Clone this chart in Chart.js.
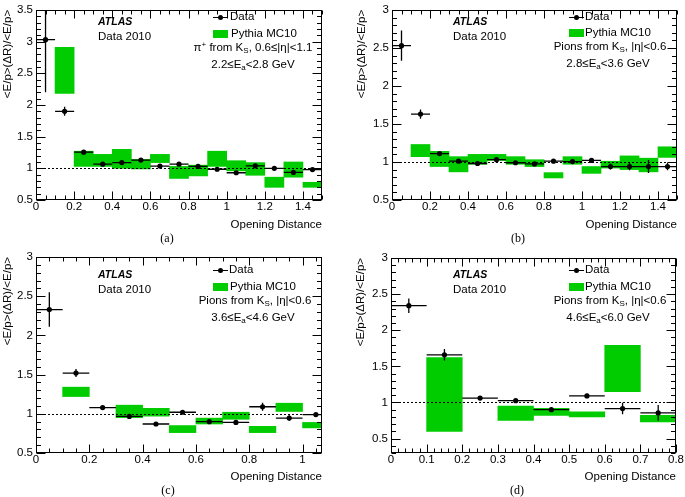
<!DOCTYPE html>
<html><head><meta charset="utf-8">
<script src="https://cdn.jsdelivr.net/npm/chart.js@4/dist/chart.umd.min.js"></script>
<style>
html,body{margin:0;padding:0;background:#fff;}
body{width:685px;height:497px;overflow:hidden;position:relative;font-family:"Liberation Sans",Arial,Helvetica,sans-serif;color:#000;}
canvas{position:absolute;}
.t{position:absolute;white-space:nowrap;font-size:11.5px;line-height:1;transform:translateY(-50%);}
.c{transform:translate(-50%,-50%);}
.atlas{font-weight:bold;font-style:italic;font-size:10.5px;}
.cap{font-family:"Liberation Serif","Times New Roman",serif;font-size:12px;}
sub,sup{font-size:8px;line-height:0;}
sub{vertical-align:-2px;} sup{vertical-align:4px;}
.lline{position:absolute;height:1.2px;background:#000;width:15px;}
.ldot{position:absolute;width:5px;height:5px;border-radius:50%;background:#000;}
.lbox{position:absolute;width:15px;height:8px;background:#00cc00;}
</style>
</head><body>
<canvas id="ca" width="342" height="245" style="left:0;top:0"></canvas>
<canvas id="cb" width="343" height="245" style="left:342px;top:0"></canvas>
<canvas id="cc" width="342" height="252" style="left:0;top:245px"></canvas>
<canvas id="cd" width="343" height="252" style="left:342px;top:245px"></canvas>

<!-- panel a annotations -->
<div class="t atlas" style="left:98px;top:21px">ATLAS</div>
<div class="t" style="left:98px;top:37px">Data 2010</div>
<div class="lline" style="left:213px;top:16.5px"></div><div class="ldot" style="left:218px;top:14.5px"></div>
<div class="t" style="left:230px;top:17px">Data</div>
<div class="lbox" style="left:213px;top:30px"></div>
<div class="t" style="left:231px;top:33.5px">Pythia MC10</div>
<div class="t c" style="left:253px;top:48px">π<sup>+</sup> from K<sub>S</sub>, 0.6≤|η|&lt;1.1</div>
<div class="t c" style="left:253px;top:65px">2.2≤E<sub>a</sub>&lt;2.8 GeV</div>
<div class="t c cap" style="left:167px;top:238px">(a)</div>

<!-- panel b annotations -->
<div class="t atlas" style="left:453px;top:21px">ATLAS</div>
<div class="t" style="left:453px;top:37px">Data 2010</div>
<div class="lline" style="left:569px;top:16.5px"></div><div class="ldot" style="left:574px;top:14.5px"></div>
<div class="t" style="left:585px;top:17px">Data</div>
<div class="lbox" style="left:569px;top:29px"></div>
<div class="t" style="left:585px;top:33px">Pythia MC10</div>
<div class="t c" style="left:610px;top:47px">Pions from K<sub>S</sub>, |η|&lt;0.6</div>
<div class="t c" style="left:608px;top:64px">2.8≤E<sub>a</sub>&lt;3.6 GeV</div>
<div class="t c cap" style="left:518px;top:238px">(b)</div>

<!-- panel c annotations -->
<div class="t atlas" style="left:98px;top:274px">ATLAS</div>
<div class="t" style="left:98px;top:290px">Data 2010</div>
<div class="lline" style="left:213px;top:269.5px"></div><div class="ldot" style="left:218px;top:267.5px"></div>
<div class="t" style="left:229px;top:270px">Data</div>
<div class="lbox" style="left:213px;top:283px"></div>
<div class="t" style="left:230px;top:287px">Pythia MC10</div>
<div class="t c" style="left:255px;top:301px">Pions from K<sub>S</sub>, |η|&lt;0.6</div>
<div class="t c" style="left:253px;top:318px">3.6≤E<sub>a</sub>&lt;4.6 GeV</div>
<div class="t c cap" style="left:168px;top:490px">(c)</div>

<!-- panel d annotations -->
<div class="t atlas" style="left:453px;top:274px">ATLAS</div>
<div class="t" style="left:453px;top:290px">Data 2010</div>
<div class="lline" style="left:569px;top:269.5px"></div><div class="ldot" style="left:574px;top:267.5px"></div>
<div class="t" style="left:585px;top:270px">Data</div>
<div class="lbox" style="left:569px;top:283px"></div>
<div class="t" style="left:585px;top:287px">Pythia MC10</div>
<div class="t c" style="left:610px;top:301px">Pions from K<sub>S</sub>, |η|&lt;0.6</div>
<div class="t c" style="left:608px;top:318px">4.6≤E<sub>a</sub>&lt;6.0 GeV</div>
<div class="t c cap" style="left:517px;top:490px">(d)</div>

<script>
// ---------------- DATA ----------------
const yTitle = '<E/p>(\u0394R)/<E/p>';
const xTitle = 'Opening Distance';

// Panel (a)
const dataXA = [0.05,0.15,0.25,0.35,0.45,0.55,0.65,0.75,0.85,0.95,1.05,1.15,1.25,1.35,1.45];
const dataYA = [3.03,1.90,1.255,1.065,1.09,1.13,1.035,1.065,1.03,0.985,0.93,1.04,1.0,0.935,0.98];
const errYA  = [0.83,0.07,0.02,0.015,0.015,0.015,0.01,0.01,0.01,0.01,0.015,0.015,0.01,0.015,0.015];
const mcXA   = [0.15,0.25,0.35,0.45,0.55,0.65,0.75,0.85,0.95,1.05,1.15,1.25,1.35,1.45];
const mcLoA  = [2.18,1.03,1.03,1.00,0.99,1.09,0.84,0.88,1.03,0.96,0.89,0.70,0.86,0.70];
const mcHiA  = [2.91,1.27,1.22,1.30,1.14,1.22,1.03,1.05,1.27,1.12,1.09,0.86,1.10,0.78];
const xTicksA = [0,0.2,0.4,0.6,0.8,1,1.2,1.4];
const yTicksA = [0.5,1,1.5,2,2.5,3,3.5];

// Panel (b)
const dataXB = [0.05,0.15,0.25,0.35,0.45,0.55,0.65,0.75,0.85,0.95,1.05,1.15,1.25,1.35,1.45];
const dataYB = [2.53,1.63,1.11,1.01,0.98,1.03,0.99,0.975,1.01,1.005,1.02,0.94,0.94,0.94,0.94];
const errYB  = [0.2,0.06,0.02,0.02,0.02,0.02,0.02,0.02,0.02,0.03,0.03,0.04,0.05,0.085,0.05];
const mcXB   = [0.15,0.25,0.35,0.45,0.55,0.65,0.75,0.85,0.95,1.05,1.15,1.25,1.35,1.45];
const mcLoB  = [1.07,0.94,0.87,0.97,1.02,0.97,0.94,0.79,0.97,0.85,0.92,0.90,0.87,1.06];
const mcHiB  = [1.23,1.14,1.07,1.10,1.10,1.07,1.03,0.86,1.07,0.94,1.01,1.08,1.05,1.20];
const xTicksB = [0,0.2,0.4,0.6,0.8,1,1.2,1.4];
const yTicksB = [0.5,1,1.5,2,2.5,3];

// Panel (c)
const dataXC = [0.05,0.15,0.25,0.35,0.45,0.55,0.65,0.75,0.85,0.95,1.05];
const dataYC = [2.33,1.52,1.08,0.966,0.87,1.02,0.90,0.89,1.09,0.945,0.99];
const errYC  = [0.22,0.05,0.02,0.02,0.02,0.02,0.02,0.02,0.05,0.035,0.02];
const mcXC   = [0.15,0.35,0.45,0.55,0.65,0.75,0.85,0.95,1.05];
const mcLoC  = [1.22,0.95,0.97,0.76,0.87,0.93,0.76,1.03,0.82];
const mcHiC  = [1.34,1.11,1.07,0.85,0.945,1.02,0.84,1.135,0.89];
const xTicksC = [0,0.2,0.4,0.6,0.8,1];
const yTicksC = [0.5,1,1.5,2,2.5,3];

// Panel (d)
const dataXD = [0.05,0.15,0.25,0.35,0.45,0.55,0.65,0.75];
const dataYD = [2.34,1.66,1.06,1.025,0.90,1.09,0.915,0.855];
const errYD  = [0.1,0.08,0.03,0.02,0.03,0.03,0.08,0.11];
const mcXD   = [0.15,0.35,0.45,0.55,0.65,0.75];
const mcLoD  = [0.60,0.75,0.82,0.80,1.15,0.73];
const mcHiD  = [1.62,0.95,0.92,0.87,1.79,0.82];
const xTicksD = [0,0.1,0.2,0.3,0.4,0.5,0.6,0.7,0.8];
const yTicksD = [0.5,1,1.5,2,2.5,3];

// ---------------- STYLE / PLUGIN ----------------
const FONT = {family:'"Liberation Sans", Arial, Helvetica, sans-serif', size:11.5};

const rootPlugin = {
  id: 'rootStyle',
  beforeDatasetDraw(chart, args, o) {
    if (args.meta.type !== 'scatter') return;
    const {ctx, chartArea: ca} = chart;
    const x = chart.scales.x, y = chart.scales.y;
    ctx.save();
    ctx.beginPath(); ctx.rect(ca.left, ca.top, ca.right - ca.left, ca.bottom - ca.top); ctx.clip();
    // reference line at 1
    const y1 = Math.round(y.getPixelForValue(1)) + 0.5;
    ctx.strokeStyle = '#000'; ctx.lineWidth = 1; ctx.setLineDash([2, 2]);
    ctx.beginPath(); ctx.moveTo(ca.left, y1); ctx.lineTo(ca.right, y1); ctx.stroke();
    ctx.setLineDash([]);
    // error bars
    const ds = chart.data.datasets[args.index];
    ctx.lineWidth = 1.3; ctx.strokeStyle = '#000';
    ds.data.forEach((p, i) => {
      const px = x.getPixelForValue(p.x), py = y.getPixelForValue(p.y);
      const e = o.yerr[i];
      ctx.beginPath();
      ctx.moveTo(px, y.getPixelForValue(p.y - e)); ctx.lineTo(px, y.getPixelForValue(p.y + e));
      ctx.moveTo(x.getPixelForValue(p.x - o.xhalf), py); ctx.lineTo(x.getPixelForValue(p.x + o.xhalf), py);
      ctx.stroke();
    });
    ctx.restore();
  },
  afterDraw(chart, args, o) {
    const {ctx, chartArea: ca} = chart;
    const x = chart.scales.x, y = chart.scales.y;
    ctx.save();
    ctx.strokeStyle = '#000'; ctx.lineWidth = 1;
    const L = Math.round(ca.left) + 0.5, R = Math.round(ca.right) - 0.5;
    const T = Math.round(ca.top) + 0.5, B = Math.round(ca.bottom) - 0.5;
    ctx.strokeRect(L, T, R - L, B - T);
    ctx.beginPath();
    const near = (v, arr) => arr.some(a => Math.abs(a - v) < 1e-6);
    const xMaj = x.ticks.map(t => t.value), yMaj = y.ticks.map(t => t.value);
    // x ticks
    const xs = o.xMinor;
    for (let k = Math.ceil(x.min / xs - 1e-6); k * xs <= x.max + 1e-9; k++) {
      const v = k * xs;
      const len = near(v, xMaj) ? 8 : 4;
      const px = Math.round(x.getPixelForValue(v)) + 0.5;
      ctx.moveTo(px, B); ctx.lineTo(px, B - len);
      ctx.moveTo(px, T); ctx.lineTo(px, T + len);
    }
    const ys = o.yMinor;
    for (let k = Math.ceil(y.min / ys - 1e-6); k * ys <= y.max + 1e-9; k++) {
      const v = k * ys;
      const len = near(v, yMaj) ? 9 : 4.5;
      const py = Math.round(y.getPixelForValue(v)) + 0.5;
      ctx.moveTo(L, py); ctx.lineTo(L + len, py);
      ctx.moveTo(R, py); ctx.lineTo(R - len, py);
    }
    ctx.stroke();
    ctx.restore();
  }
};

function makePanel(id, p) {
  const fmt = v => String(+v.toFixed(2));
  return new Chart(document.getElementById(id), {
    type: 'scatter',
    data: {
      datasets: [
        {
          type: 'scatter', label: 'Data', order: 0,
          data: p.dx.map((v, i) => ({x: v, y: p.dy[i]})),
          pointRadius: 2.6, pointHoverRadius: 2.6, pointBackgroundColor: '#000', pointBorderWidth: 0,
          showLine: false
        },
        {
          type: 'bar', label: 'Pythia MC10', order: 1,
          data: p.mx.map((v, i) => ({x: v, y: [p.lo[i], p.hi[i]]})),
          backgroundColor: '#00cc00', borderWidth: 0,
          barPercentage: 1, categoryPercentage: 1, grouped: false, clip: 0
        }
      ]
    },
    options: {
      responsive: false, animation: false, devicePixelRatio: 1,
      layout: {autoPadding: false, padding: {top: p.padTop, right: p.padRight, left: 0, bottom: 0}},
      plugins: {
        legend: {display: false}, tooltip: {enabled: false},
        rootStyle: {yerr: p.err, xhalf: 0.05, xMinor: p.xMinor, yMinor: p.yMinor}
      },
      scales: {
        x: {
          type: 'linear', min: p.xmin, max: p.xmax, offset: false,
          grid: {display: false, drawTicks: false}, border: {display: false},
          afterBuildTicks: s => { s.ticks = p.xt.map(v => ({value: v})); },
          afterFit: s => { s.height = p.xH; },
          ticks: {padding: 0, color: '#000', font: FONT, maxRotation: 0, autoSkip: false, callback: fmt},
          title: {display: true, text: xTitle, align: 'end', color: '#000', font: FONT, padding: {top: 0, bottom: 13}}
        },
        y: {
          type: 'linear', min: p.ymin, max: p.ymax,
          grid: {display: false, drawTicks: false}, border: {display: false},
          afterBuildTicks: s => { s.ticks = p.yt.map(v => ({value: v})); },
          afterFit: s => { s.width = p.yW; },
          ticks: {padding: 3, color: '#000', font: FONT, autoSkip: false, callback: fmt},
          title: {display: true, text: yTitle, align: 'end', color: '#000', font: FONT, padding: {top: p.yTitlePad, bottom: 0}}
        }
      }
    },
    plugins: [rootPlugin]
  });
}

makePanel('ca', {dx: dataXA, dy: dataYA, err: errYA, mx: mcXA, lo: mcLoA, hi: mcHiA, xt: xTicksA, yt: yTicksA,
  xmin: 0, xmax: 1.5, ymin: 0.5, ymax: 3.5, xMinor: 0.05, yMinor: 0.1,
  padTop: 4, padRight: 20, yW: 36, xH: 45, yTitlePad: 1});
makePanel('cb', {dx: dataXB, dy: dataYB, err: errYB, mx: mcXB, lo: mcLoB, hi: mcHiB, xt: xTicksB, yt: yTicksB,
  xmin: 0, xmax: 1.5, ymin: 0.5, ymax: 3, xMinor: 0.05, yMinor: 0.1,
  padTop: 4, padRight: 8, yW: 50, xH: 45, yTitlePad: 13});
makePanel('cc', {dx: dataXC, dy: dataYC, err: errYC, mx: mcXC, lo: mcLoC, hi: mcHiC, xt: xTicksC, yt: yTicksC,
  xmin: 0, xmax: 1.073, ymin: 0.5, ymax: 3, xMinor: 0.05, yMinor: 0.1,
  padTop: 12, padRight: 20, yW: 36, xH: 44, yTitlePad: 1});
makePanel('cd', {dx: dataXD, dy: dataYD, err: errYD, mx: mcXD, lo: mcLoD, hi: mcHiD, xt: xTicksD, yt: yTicksD,
  xmin: 0, xmax: 0.8, ymin: 0.3, ymax: 3, xMinor: 0.02, yMinor: 0.1,
  padTop: 13, padRight: 9, yW: 49, xH: 44, yTitlePad: 12});
</script>
</body></html>
